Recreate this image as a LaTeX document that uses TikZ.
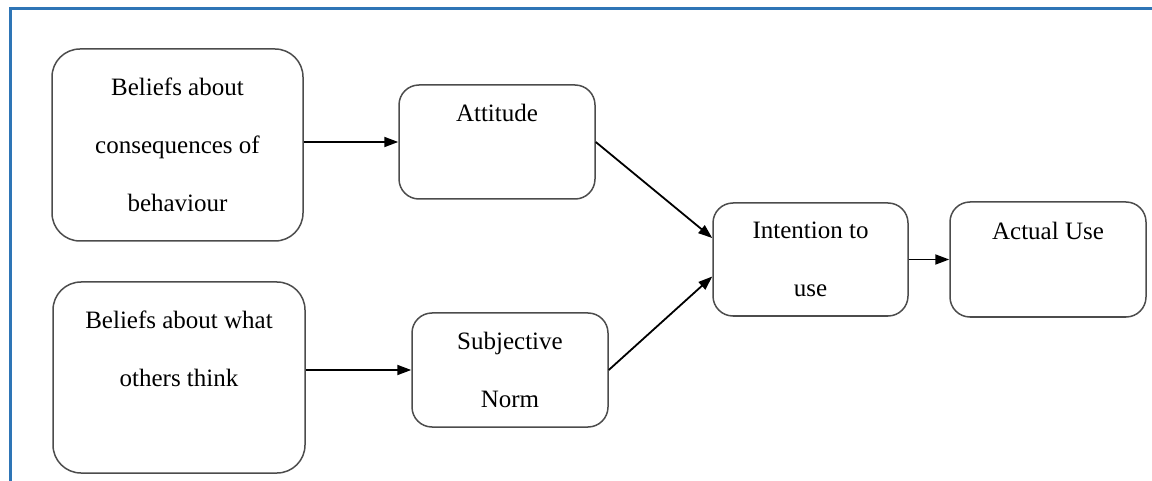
\documentclass[tikz,border=0pt]{standalone}
\usepackage{fontspec}
\setmainfont{Liberation Serif}
\usetikzlibrary{arrows.meta}
\definecolor{frameblue}{RGB}{46,117,182}
\begin{document}
\begin{tikzpicture}[x=1pt,y=-1pt,
  box/.style={draw=black!70, line width=1.5pt, rounded corners=#1, align=center, inner sep=0pt, font=\fontsize{25}{58}\selectfont},
  box/.default=20pt,
  arr/.style={-{Triangle[length=14pt,width=10pt]}, line width=1.8pt}]
\useasboundingbox (0,0) rectangle (1152,481);
\draw[frameblue, line width=3.5pt] (10.5,481) -- (10.5,8.5) -- (1152,8.5);
\node[box=28pt, minimum width=251pt, minimum height=192pt] (bel0) at (177.5,145){Beliefs about\\consequences of\\behaviour};
\node[box=28pt, minimum width=252pt, minimum height=191pt] (bel1) at (179,377.5){Beliefs about what\\others think\\\mbox{}};
\node[box, minimum width=196pt, minimum height=114pt] (att) at (497,142){Attitude\\\mbox{}};
\node[box, minimum width=196pt, minimum height=114pt] (norm) at (510,370){Subjective\\Norm};
\draw[arr](bel0.east |- att.west) -- (att.west);
\draw[arr](bel1.east |- norm.west) -- (norm.west);
\node[box, minimum width=195pt, minimum height=113pt] (int) at (810.5,259.5){Intention to\\use};
\node[box, minimum width=196pt, minimum height=115pt] (act) at (1048,259.5){Actual Use\\\mbox{}};
\draw[arr](att.east) -- ([yshift=21.5pt]int.west);
\draw[arr](norm.east) -- ([yshift=-17pt]int.west);
\draw[arr](int.east) -- (act.west);
\end{tikzpicture}
\end{document}
